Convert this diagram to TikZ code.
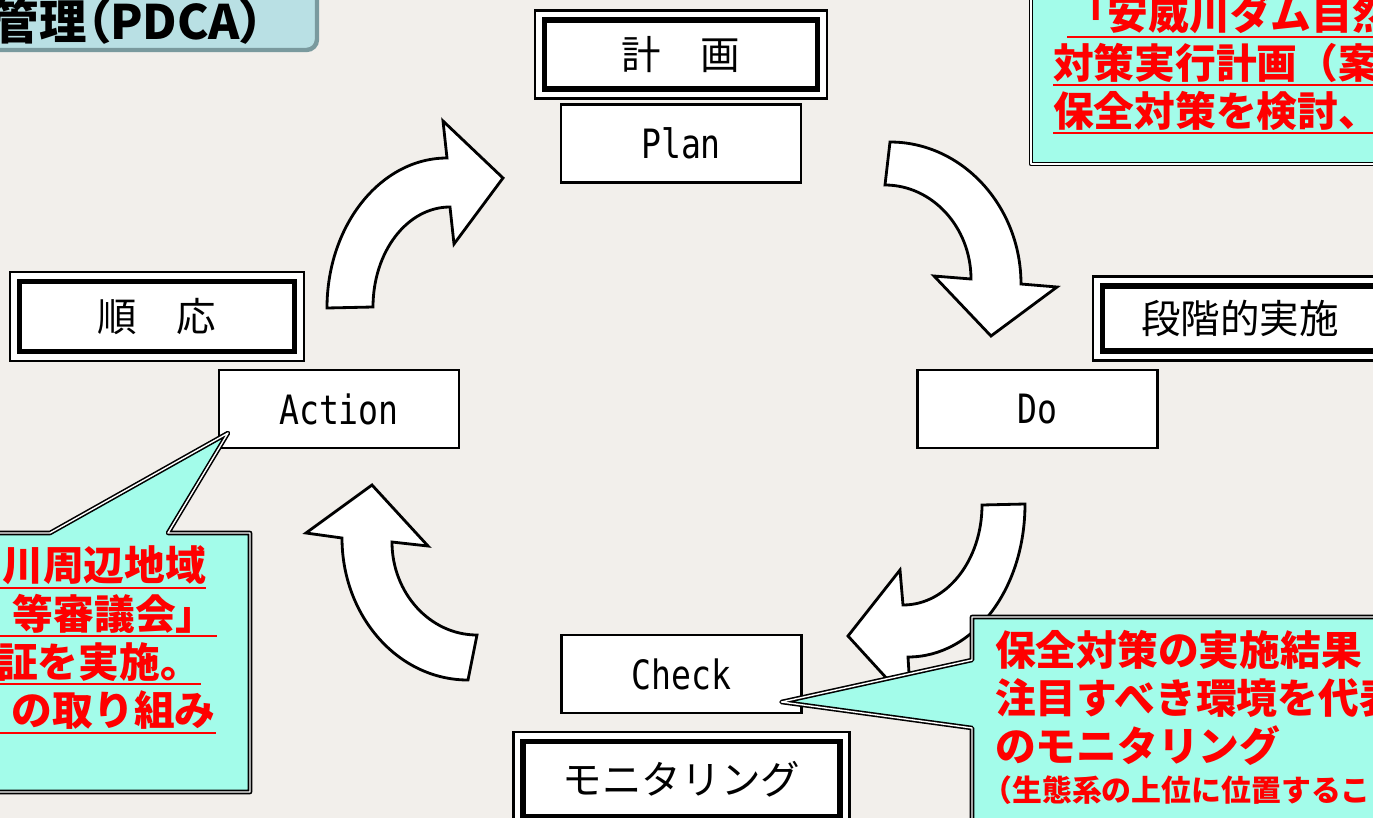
\documentclass[tikz,border=0pt]{standalone}
\usepackage{fontspec}
\newfontfamily\jp{Noto Sans CJK JP}
\newfontfamily\jpp[RawFeature=+palt]{Noto Sans CJK JP}
\newfontfamily\latin[FakeStretch=0.82]{DejaVu Sans Mono}
\usetikzlibrary{positioning,calc}

\definecolor{paper}{RGB}{242,239,235}
\definecolor{aqua}{RGB}{163,252,234}
\definecolor{titleblue}{RGB}{185,224,228}
\definecolor{titleshade}{RGB}{122,154,158}

\newsavebox\ulbox
\newcommand\redul[1]{\sbox\ulbox{#1}\rlap{\raisebox{-0.19em}{\rule{\wd\ulbox}{1.1pt}}}\usebox\ulbox}

\begin{document}
\begin{tikzpicture}[
    x=0.02cm, y=-0.02cm,
    outer sep=0pt,
    box/.style={draw, line width=1.2pt, fill=white, minimum width=4.8cm, minimum height=1.56cm, font=\latin\fontsize{23}{23}\selectfont},
    label box/.style={draw, line width=1.6pt, fill=white, minimum width=5.88cm, minimum height=1.78cm, font=\jp\fontsize{22.5}{22.5}\selectfont},
    inner frame/.style={line width=2.9pt},
    block arrow/.style={draw, fill=white, line width=1.6pt, line join=miter},
    callout/.style={draw, fill=aqua, line width=0.9pt, double=white, double distance=0.8pt, line join=round},
    titlebox/.style={fill=titleblue, draw=titleshade, line width=2.5pt, rounded corners=6pt},
    memo/.style={font=\jp\bfseries\fontsize{23.2}{27.5}\selectfont, text=red, align=left, inner sep=0pt},
    memo small/.style={font=\jp\bfseries\fontsize{17}{20}\selectfont, text=red, align=left, inner sep=0pt}
]
    \useasboundingbox (0,0) rectangle (1373,818);
    \clip (0,0) rectangle (1373,818);
    \fill[paper] (0,0) rectangle (1373,818);

    % title
    \draw[titlebox] (-20,-20) rectangle (317,50);
    \node[font=\jpp\bfseries\fontsize{27}{30}\selectfont, inner sep=0pt, anchor=base east] (title) at (264,39) {管理（PDCA）};

    % cycle arrows
    \draw[block arrow] (327,308) .. controls (327,225) and (381,158) .. (447,158) -- (443,121) -- (503,178) -- (454,244) -- (450,207) .. controls (407,207) and (373,252) .. (373,307) -- cycle;
    \draw[block arrow] (890,142) .. controls (962,142) and (1021,206) .. (1021,284) -- (1057,287) -- (991,336) -- (934,276) -- (971,279) .. controls (971,227) and (932,185) .. (885,185) -- cycle;
    \draw[block arrow] (1025,504) .. controls (1025,590) and (973,657) .. (908,657) -- (911,705) -- (848,636) -- (900,570) -- (903,605) .. controls (947,605) and (982,560) .. (982,505) -- cycle;
    \draw[block arrow] (468,680) .. controls (398,680) and (342,616) .. (342,538) -- (306,533) -- (372,485) -- (428,546) -- (392,542) .. controls (392,593) and (430,635) .. (477,635) -- cycle;

    % PDCA boxes
    \node [box] (plan) at (681,143.5) {Plan};
    \node [box] (do) at (1037.5,409) {Do};
    \node [box] (check) at (681.5,674) {Check};
    \node [box] (act) at (339,409) {Action};

    % stage labels
    \node [label box, minimum width=5.84cm, minimum height=1.76cm, above=0.12cm of plan] (keikaku) {計　画};
    \node [label box, minimum height=1.68cm] (dankai) at (1240,318.5) {段階的実施};
    \node [label box, minimum width=6.72cm, minimum height=1.88cm, below=0.38cm of check] (monitor) {モニタリング};
    \node [label box] (junnou) at (157,316.5) {順　応};
    \draw[inner frame] ([shift={(9.5,-9.5)}]keikaku.south west) rectangle ([shift={(-9.5,9.5)}]keikaku.north east);
    \draw[inner frame] ([shift={(9.5,-9.5)}]dankai.south west) rectangle ([shift={(-9.5,9.5)}]dankai.north east);
    \draw[inner frame] ([shift={(9.5,-9.5)}]monitor.south west) rectangle ([shift={(-9.5,9.5)}]monitor.north east);
    \draw[inner frame] ([shift={(9.5,-9.5)}]junnou.south west) rectangle ([shift={(-9.5,9.5)}]junnou.north east);

    % callouts
    \draw[callout] (1031,-20) rectangle (1400,164);
    \node[memo, anchor=north west] (plantxt) at (1053,-6)
        {\hspace*{8pt}\redul{「安威川ダム自然}\\\redul{対策実行計画（案}\\\redul{保全対策を検討、}};

    \draw[callout] (-20,533) -- (50,533) -- ($(act.south west)+(9,-15)$) -- (168,533) -- (250,533) -- (250,792) -- (-20,792) -- cycle;
    \node[memo, anchor=north west] (acttxt) at (-3,546)
        {\redul{\hspace*{3pt}川周辺地域}\\\redul{\hspace*{9pt}等審議会」}\\\redul{証を実施。}\\\redul{\hspace*{8.5pt}の取り組み}};

    \draw[callout] (972,617) -- (1400,617) -- (1400,840) -- (972,840) -- (972,728) -- ($(check.south east)+(-20,-11)$) -- (972,660) -- cycle;
    \node[memo, anchor=north west] (checktxt) at (995,630)
        {保全対策の実施結果\\注目すべき環境を代表\\のモニタリング};
    \node[memo small, below=0.2cm of checktxt.south west, anchor=north west, xshift=-0.25cm] (checknote) {（生態系の上位に位置するこ};
\end{tikzpicture}
\end{document}
